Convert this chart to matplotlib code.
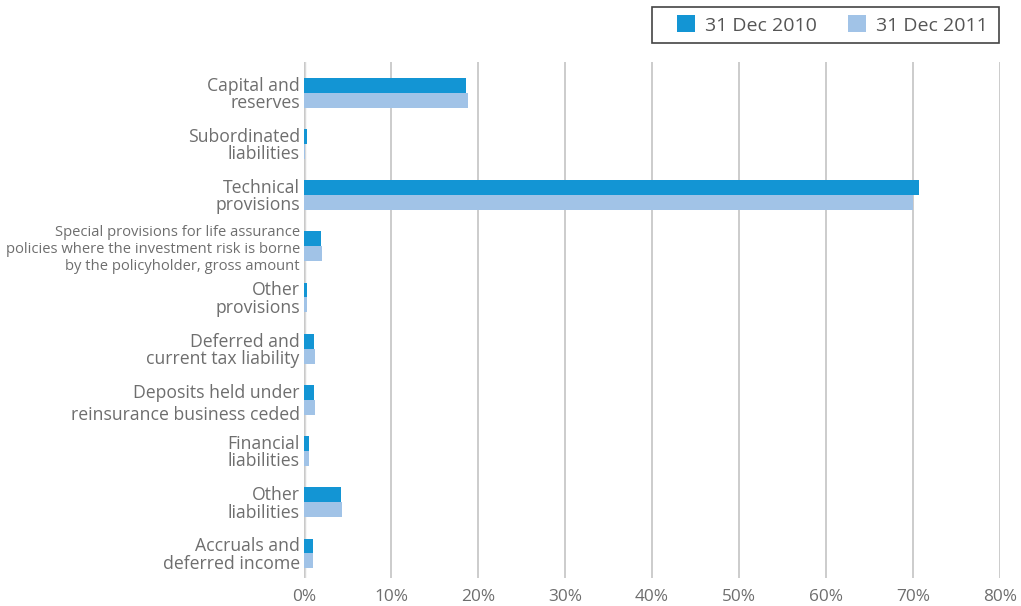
import matplotlib
matplotlib.use("Agg")
import matplotlib.pyplot as plt
from matplotlib.patches import Rectangle
import numpy as np

categories = [
    "Capital and\nreserves",
    "Subordinated\nliabilities",
    "Technical\nprovisions",
    "Special provisions for life assurance\npolicies where the investment risk is borne\nby the policyholder, gross amount",
    "Other\nprovisions",
    "Deferred and\ncurrent tax liability",
    "Deposits held under\nreinsurance business ceded",
    "Financial\nliabilities",
    "Other\nliabilities",
    "Accruals and\ndeferred income",
]
dec_2010 = [18.6, 0.4, 70.7, 2.0, 0.3, 1.2, 1.2, 0.6, 4.2, 1.0]
dec_2011 = [18.9, 0.1, 70.0, 2.1, 0.3, 1.3, 1.3, 0.6, 4.4, 1.0]
series_names = ["31 Dec 2010", "31 Dec 2011"]
x_ticks = [0, 10, 20, 30, 40, 50, 60, 70, 80]

c2010 = "#1395d4"
c2011 = "#a1c3e7"
text_col = "#6e6e6e"
grid_col = "#c8c8c8"

plt.rcParams["font.family"] = ["Open Sans", "DejaVu Sans"]

W, H = 1021, 606
fig = plt.figure(figsize=(W / 100, H / 100), dpi=100)
ax = fig.add_axes([304 / W, 1 - 578 / H, (1000 - 304) / W, (578 - 62) / H])

y = np.arange(len(categories))
h = 0.29
ax.barh(y - h / 2, dec_2010, height=h, color=c2010, label=series_names[0], zorder=3)
ax.barh(y + h / 2, dec_2011, height=h, color=c2011, label=series_names[1], zorder=3)

ax.set_ylim(len(categories) - 0.52, -0.6)
ax.set_xlim(0, 80)
ax.set_xticks(x_ticks)
ax.set_xticklabels([f"{v}%" for v in x_ticks], color=text_col, fontsize=12.4)
ax.set_yticks(y)
ax.set_yticklabels(categories, color=text_col, fontsize=12.7, linespacing=0.95)
for i, lab in enumerate(ax.get_yticklabels()):
    if i == 3:
        lab.set_fontsize(10.6)
        lab.set_linespacing(1.18)
    if i == 6:
        lab.set_linespacing(1.28)

ax.tick_params(axis="both", length=0, pad=3)
ax.tick_params(axis="x", pad=8)
for s in ax.spines.values():
    s.set_visible(False)
ax.grid(axis="x", color=grid_col, linewidth=1.3, zorder=0)
ax.axvline(0, color="#d9d9d9", linewidth=2.5, zorder=1)

# legend box spanning the top right corner
fig.patches.append(Rectangle((652 / W, 1 - 43 / H), (999 - 652) / W, 36 / H,
                             transform=fig.transFigure, fill=False,
                             edgecolor="#444444", linewidth=1.2))
leg = fig.legend(
    loc="center left",
    bbox_to_anchor=(669 / W, 1 - 25 / H),
    ncol=2,
    frameon=False,
    fontsize=14,
    handlelength=0.95,
    handleheight=0.95,
    handletextpad=0.5,
    columnspacing=1.6,
    borderpad=0.4,
    borderaxespad=0,
)
for t in leg.get_texts():
    t.set_color("#555555")

fig.savefig("out.png", dpi=100)
